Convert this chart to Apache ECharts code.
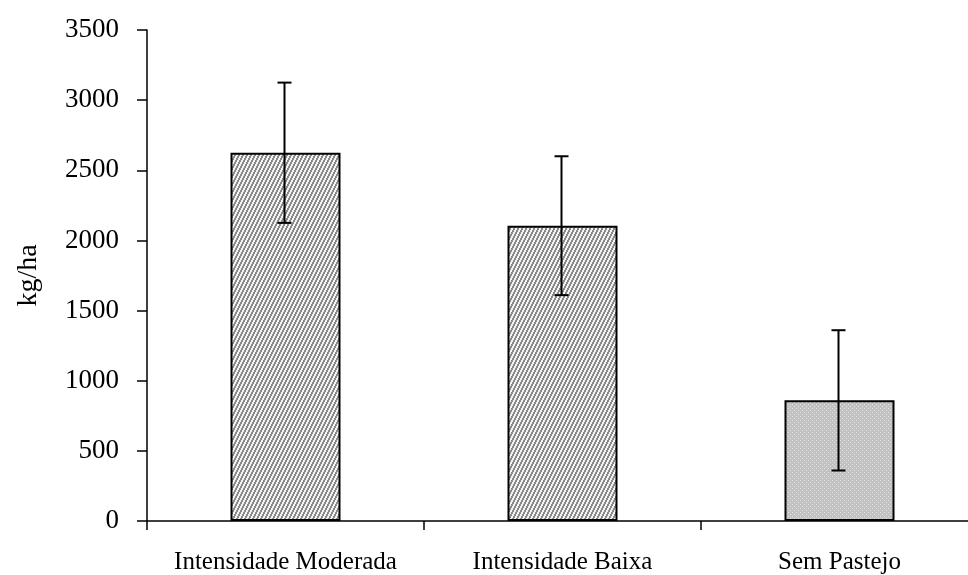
<!DOCTYPE html>
<html><head><meta charset="utf-8">
<script src="https://cdn.jsdelivr.net/npm/echarts@6/dist/echarts.min.js"></script>
<style>html,body{margin:0;padding:0;background:#fff;overflow:hidden}#c{width:980px;height:575px}</style>
</head><body><div id="c"></div>
<script>
const categories = ['Intensidade Moderada', 'Intensidade Baixa', 'Sem Pastejo'];
const values = [2625, 2105, 860];
const errors = [500, 495, 500];
const yTicks = {min: 0, max: 3500, interval: 500};

function hatch() {
  const c = document.createElement('canvas');
  c.width = 4; c.height = 8;
  const g = c.getContext('2d');
  g.fillStyle = '#f2f2f2'; g.fillRect(0, 0, 4, 8);
  g.fillStyle = '#8a8a8a';
  for (let y = 0; y < 8; y++) {
    const s = Math.floor((7 - y) / 2);
    for (let k = 0; k < 2; k++) g.fillRect((s + k) % 4, y, 1, 1);
  }
  return c;
}
function dots() {
  const c = document.createElement('canvas');
  c.width = 4; c.height = 4;
  const g = c.getContext('2d');
  g.fillStyle = '#c2c2c2'; g.fillRect(0, 0, 4, 4);
  g.fillStyle = '#e4e4e4';
  g.fillRect(0, 0, 1, 1);
  g.fillRect(2, 2, 1, 1);
  return c;
}
const fills = [
  {image: hatch(), repeat: 'repeat'},
  {image: hatch(), repeat: 'repeat'},
  {image: dots(), repeat: 'repeat'}
];

const chart = echarts.init(document.getElementById('c'), null, {renderer: 'canvas'});
const font = "'Liberation Serif', 'Times New Roman', serif";
chart.setOption({
  animation: false,
  backgroundColor: '#fff',
  grid: {left: 147, top: 30, right: 2, height: 493},
  xAxis: {
    type: 'category',
    data: categories,
    axisLine: {lineStyle: {color: '#000', width: 1.5}},
    axisTick: {show: true, interval: 0, length: 9, lineStyle: {color: '#000', width: 1.5}},
    axisLabel: {color: '#000', fontFamily: font, fontSize: 25, margin: 29, interval: 0}
  },
  yAxis: {
    type: 'value',
    min: yTicks.min, max: yTicks.max, interval: yTicks.interval,
    name: 'kg/ha',
    nameLocation: 'middle',
    nameGap: 104,
    nameTextStyle: {color: '#000', fontFamily: font, fontSize: 28},
    splitLine: {show: false},
    axisLine: {show: true, lineStyle: {color: '#000', width: 1.5}},
    axisTick: {show: true, length: 10, lineStyle: {color: '#000', width: 1.5}},
    axisLabel: {color: '#000', fontFamily: font, fontSize: 27, margin: 28,
      formatter: v => String(v)}
  },
  series: [
    {
      type: 'bar',
      barWidth: 110,
      data: values.map((v, i) => ({value: v, itemStyle: {color: fills[i]}})),
      itemStyle: {borderColor: '#000', borderWidth: 2}
    },
    {
      type: 'custom',
      data: values.map((v, i) => [i, v - errors[i], v + errors[i]]),
      renderItem: function (params, api) {
        const lo = api.coord([api.value(0), api.value(1)]);
        const hi = api.coord([api.value(0), api.value(2)]);
        const x = lo[0] - 1, w = 7;
        const st = {stroke: '#000', lineWidth: 2};
        return {type: 'group', children: [
          {type: 'line', shape: {x1: x, y1: lo[1], x2: x, y2: hi[1]}, style: st},
          {type: 'line', shape: {x1: x - w, y1: lo[1], x2: x + w, y2: lo[1]}, style: st},
          {type: 'line', shape: {x1: x - w, y1: hi[1], x2: x + w, y2: hi[1]}, style: st}
        ]};
      },
      z: 5
    }
  ]
});
</script></body></html>
